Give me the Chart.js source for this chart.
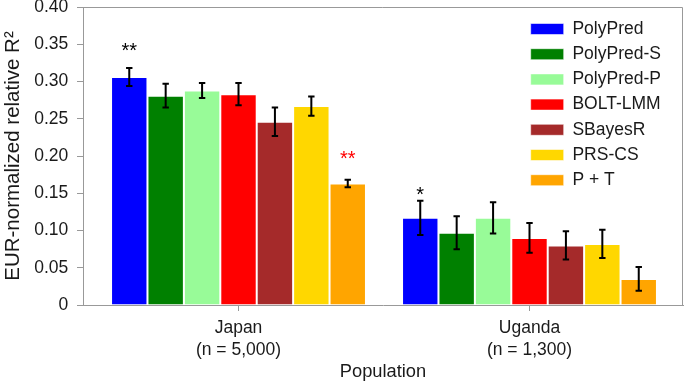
<!DOCTYPE html>
<html>
<head>
<meta charset="utf-8">
<script src="https://cdn.jsdelivr.net/npm/chart.js@4/dist/chart.umd.min.js"></script>
<style>
html, body { margin: 0; padding: 0; background: #fff; }
#wrap { width: 685px; height: 387px; position: relative; }
</style>
</head>
<body>
<div id="wrap"><canvas id="c"></canvas></div>
<script>
// ---- data ----
const categories = ['Japan', 'Uganda'];
const categoryNotes = ['(n = 5,000)', '(n = 1,300)'];
const methods = ['PolyPred', 'PolyPred-S', 'PolyPred-P', 'BOLT-LMM', 'SBayesR', 'PRS-CS', 'P + T'];

const polyPred  = [0.306, 0.117];
const polyPredS = [0.281, 0.097];
const polyPredP = [0.288, 0.117];
const boltLmm   = [0.283, 0.090];
const sBayesR   = [0.246, 0.080];
const prsCs     = [0.267, 0.082];
const pT        = [0.163, 0.035];

const polyPredErr  = [0.012, 0.023];
const polyPredSErr = [0.016, 0.022];
const polyPredPErr = [0.010, 0.021];
const boltLmmErr   = [0.015, 0.020];
const sBayesRErr   = [0.019, 0.019];
const prsCsErr     = [0.013, 0.019];
const pTErr        = [0.005, 0.016];

const polyPredSig      = ['**', '*'];
const polyPredSigLevel = [0.348, 0.155];
const pTSig            = ['**', ''];
const pTSigLevel       = [0.203, null];

const yTickLabels = ['0', '0.05', '0.10', '0.15', '0.20', '0.25', '0.30', '0.35', '0.40'];

// ---- styles ----
const FONT = "'Liberation Sans', Arial, Helvetica, sans-serif";
const AXIS_GRAY = '#999999';
const TEXT = '#1a1a1a';
const colors = ['#0000ff', '#008000', '#98fb98', '#ff0000', '#a52a2a', '#ffd700', '#ffa500'];

const seriesValues = [polyPred, polyPredS, polyPredP, boltLmm, sBayesR, prsCs, pT];
const seriesErrors = [polyPredErr, polyPredSErr, polyPredPErr, boltLmmErr, sBayesRErr, prsCsErr, pTErr];
const seriesSig = [polyPredSig, null, null, null, null, null, pTSig];
const seriesSigLevel = [polyPredSigLevel, null, null, null, null, null, pTSigLevel];
const sigColors = ['#000000', null, null, null, null, null, '#ff0000'];

const datasets = methods.map((m, k) => ({
  label: m,
  data: seriesValues[k].map((v, i) => ({ x: i, y: v })),
  errors: seriesErrors[k],
  sig: seriesSig[k],
  sigLevel: seriesSigLevel[k],
  sigColor: sigColors[k],
  backgroundColor: colors[k],
  borderColor: 'rgba(255,255,255,0.55)',
  borderWidth: 1,
  barPercentage: 1.0,
  categoryPercentage: 0.876
}));

const errorBars = {
  id: 'errorBars',
  afterDatasetsDraw(chart) {
    const ctx = chart.ctx;
    const ys = chart.scales.y;
    ctx.save();
    chart.data.datasets.forEach((ds, di) => {
      const meta = chart.getDatasetMeta(di);
      meta.data.forEach((bar, i) => {
        const v = ds.data[i].y, e = ds.errors[i];
        const yt = ys.getPixelForValue(v + e);
        const yb = ys.getPixelForValue(v - e);
        ctx.strokeStyle = '#000';
        ctx.lineWidth = 2;
        ctx.beginPath();
        ctx.moveTo(bar.x, yt); ctx.lineTo(bar.x, yb);
        ctx.moveTo(bar.x - 3.2, yt); ctx.lineTo(bar.x + 3.2, yt);
        ctx.moveTo(bar.x - 3.2, yb); ctx.lineTo(bar.x + 3.2, yb);
        ctx.stroke();
        if (ds.sig && ds.sig[i]) {
          const fs = 20;
          ctx.font = fs + 'px ' + FONT;
          ctx.fillStyle = ds.sigColor;
          ctx.textAlign = 'center';
          ctx.textBaseline = 'alphabetic';
          ctx.fillText(ds.sig[i], bar.x, ys.getPixelForValue(ds.sigLevel[i]) + 0.58 * fs);
        }
      });
    });
    ctx.restore();
  }
};

const frame = {
  id: 'frame',
  afterDraw(chart) {
    const { top, right, left, bottom } = chart.chartArea;
    const ctx = chart.ctx;
    ctx.save();
    ctx.strokeStyle = AXIS_GRAY;
    ctx.lineWidth = 1;
    ctx.beginPath();
    ctx.moveTo(left, top + 0.5); ctx.lineTo(right - 0.5, top + 0.5); ctx.lineTo(right - 0.5, bottom);
    ctx.stroke();
    ctx.restore();
  }
};

const legendPlace = {
  id: 'legendPlace',
  afterLayout(chart) {
    const lg = chart.legend;
    const pad = lg.options.labels.padding;
    const w = lg.width, h = lg.height;
    lg.left = chart.chartArea.right - 152.3 - pad;
    lg.right = lg.left + w;
    lg.top = 20.25 - pad;
    lg.bottom = lg.top + h;
  }
};

Chart.defaults.font.family = FONT;
Chart.defaults.color = TEXT;

new Chart(document.getElementById('c'), {
  type: 'bar',
  data: { datasets },
  plugins: [errorBars, frame, legendPlace],
  options: {
    responsive: true,
    maintainAspectRatio: false,
    animation: false,
    layout: { padding: { left: 0, right: 2, top: 7, bottom: 0 } },
    plugins: {
      tooltip: { enabled: false },
      legend: {
        position: 'chartArea',
        align: 'start',
        labels: {
          boxWidth: 33,
          boxHeight: 11,
          padding: 7.7,
          color: TEXT,
          font: { size: 17.5 }
        }
      }
    },
    scales: {
      x: {
        type: 'linear',
        offset: false,
        min: -0.5344,
        max: 1.5275,
        z: 1,
        afterBuildTicks(scale) { scale.ticks = categories.map((_, i) => ({ value: i })); },
        afterFit(scale) { scale.height = 82; scale.paddingLeft = 0; scale.paddingRight = 0; },
        grid: { display: true, offset: false, drawOnChartArea: false, drawTicks: true, tickLength: 6, color: AXIS_GRAY },
        border: { display: true, color: AXIS_GRAY, width: 1 },
        ticks: {
          padding: 6,
          color: TEXT,
          maxRotation: 0,
          autoSkip: false,
          font: { size: 17.5, lineHeight: 1.257 },
          callback: (value, index) => [categories[index], categoryNotes[index]]
        },
        title: {
          display: true,
          text: 'Population',
          color: TEXT,
          font: { size: 18.3, lineHeight: 1.2 },
          padding: { top: 0, bottom: 4 }
        }
      },
      y: {
        min: 0,
        max: 0.4,
        z: 1,
        afterFit(scale) { scale.width = 83; scale.paddingTop = 0; scale.paddingBottom = 0; },
        grid: { display: true, drawOnChartArea: false, drawTicks: true, tickLength: 6, color: AXIS_GRAY },
        border: { display: true, color: AXIS_GRAY, width: 1 },
        ticks: {
          stepSize: 0.05,
          padding: 8.7,
          color: TEXT,
          font: { size: 17.5 },
          callback: (value, index) => yTickLabels[index]
        },
        title: {
          display: true,
          text: 'EUR-normalized relative R²',
          color: TEXT,
          font: { size: 20.5, lineHeight: 1.2 },
          padding: { top: 1, bottom: 0 }
        }
      }
    }
  }
});
</script>
</body>
</html>
